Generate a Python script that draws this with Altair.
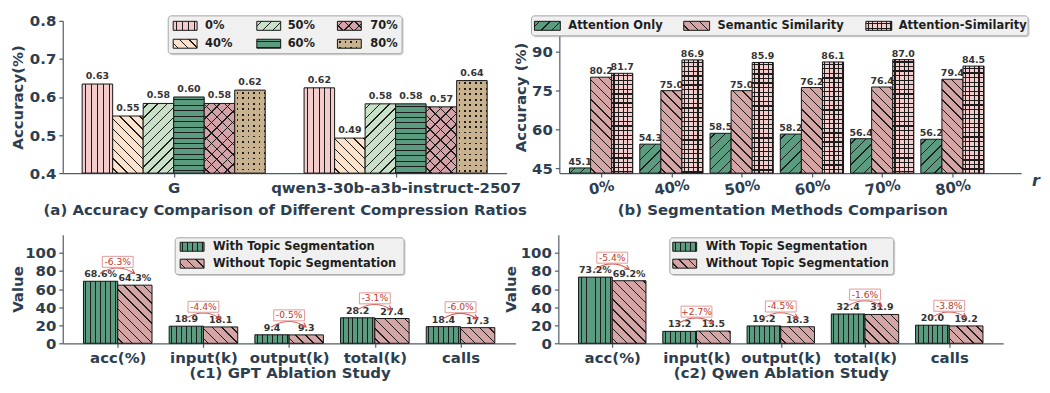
import json
import math
import altair as alt
import pandas as pd

# ---------------- data ----------------
models = ["G", "qwen3-30b-a3b-instruct-2507"]
ratios_a = ["0%", "40%", "50%", "60%", "70%", "80%"]
acc_model1 = [0.634, 0.550, 0.583, 0.600, 0.583, 0.618]
acc_model2 = [0.624, 0.492, 0.582, 0.582, 0.574, 0.643]

ratios_b = ["0%", "40%", "50%", "60%", "70%", "80%"]
methods_b = ["Attention Only", "Semantic Similarity", "Attention-Similarity"]
attention_only = [45.1, 54.3, 58.5, 58.2, 56.4, 56.2]
semantic_similarity = [80.2, 75.0, 75.0, 76.2, 76.4, 79.4]
attention_similarity = [81.7, 86.9, 85.9, 86.1, 87.0, 84.5]

metrics = ["acc(%)", "input(k)", "output(k)", "total(k)", "calls"]
variants = ["With Topic Segmentation", "Without Topic Segmentation"]
gpt_with = [68.6, 18.9, 9.4, 28.2, 18.4]
gpt_without = [64.3, 18.1, 9.3, 27.4, 17.3]
gpt_change = ["-6.3%", "-4.4%", "-0.5%", "-3.1%", "-6.0%"]
qwen_with = [73.2, 13.2, 19.2, 32.4, 20.0]
qwen_without = [69.2, 13.5, 18.3, 31.9, 19.2]
qwen_change = ["-5.4%", "+2.7%", "-4.5%", "-1.6%", "-3.8%"]

# ---------------- style ----------------
FONT = "DejaVu Sans"
INK = "#2c3e50"
AXIS_LINE = "#4f5d6b"
HATCH_INK = "#1c1c1c"
CLEAR = "rgba(0,0,0,0)"
VAL_INK = "#333333"
RED = "#c0392b"

A_STYLES = {
    "0%": dict(color="#f4cccc", hatch=[("v", 6.0, 1.0)]),
    "40%": dict(color="#fde3cc", hatch=[("\\", 7.0, 1.0)]),
    "50%": dict(color="#c8e1c8", hatch=[("/", 7.0, 1.0)]),
    "60%": dict(color="#5b9b80", hatch=[("h", 5.5, 1.0)]),
    "70%": dict(color="#d4a3a8", hatch=[("/", 7.5, 1.0), ("\\", 7.5, 1.0)]),
    "80%": dict(color="#c9b290", hatch=[("dots", 5.5, 1.7)]),
}
B_STYLES = {
    "Attention Only": dict(color="#5b9b80", hatch=[("/", 7.5, 1.0)]),
    "Semantic Similarity": dict(color="#d4a5a5", hatch=[("\\", 7.0, 1.0)]),
    "Attention-Similarity": dict(color="#f4cccc", hatch=[("v", 4.6, 1.2), ("h", 4.6, 1.2)]),
}
C_STYLES = {
    "With Topic Segmentation": dict(color="#5b9b80", hatch=[("v", 5.0, 1.0)]),
    "Without Topic Segmentation": dict(color="#d4a5a5", hatch=[("\\", 7.0, 1.0)]),
}


def _stops(L, sp, lw, col, bg):
    out = [{"offset": 0.0, "color": bg}]
    hw = lw / 2.0 / L
    last = 0.0
    d = sp / 2.0
    while d < L - 0.2:
        t = d / L
        a = round(max(last, t - hw), 4)
        b = round(min(1.0, t + hw), 4)
        out += [{"offset": a, "color": bg}, {"offset": a, "color": col},
                {"offset": b, "color": col}, {"offset": b, "color": bg}]
        last = b
        d += sp
    out.append({"offset": 1.0, "color": bg})
    return out


def hatch(kind, w, h, sp, lw, col=HATCH_INK, bg=CLEAR):
    w = max(w, 1.0)
    h = max(h, 1.0)
    if kind == "v":
        g = dict(x1=0, y1=0, x2=1, y2=0)
        L = w
    elif kind == "h":
        g = dict(x1=0, y1=0, x2=0, y2=1)
        L = h
    else:
        r = h / w
        a = (1 + r) / (1 + r * r)
        L = (w + h) / math.sqrt(2)
        if kind == "/":
            g = dict(x1=0, y1=0, x2=round(a, 5), y2=round(a * r, 5))
        else:
            g = dict(x1=0, y1=1, x2=round(a, 5), y2=round(1 - a * r, 5))
    return {"gradient": "linear", **g, "stops": _stops(L, sp, lw, col, bg)}


def fills(style, w, h):
    out = []
    for kind, sp, lw in style["hatch"]:
        if kind == "dots":
            out.append(hatch("v", w, h, sp, lw))
            out.append(hatch("h", w, h, sp, lw, col=CLEAR, bg=style["color"]))
        else:
            out.append(hatch(kind, w, h, sp, lw))
    return out


ONE = alt.Data(values=[{"k": 1}])


def legend_layers(box, items, sw, sh, fs=11.5):
    x0, y0, x1, y1 = box
    out = [
        alt.Chart(ONE).mark_rect(cornerRadius=3, fill="#9a9a9a", opacity=0.45).encode(
            x=alt.value(x0 + 1.5), x2=alt.value(x1 + 1.5), y=alt.value(y0 + 1.5), y2=alt.value(y1 + 1.5)),
        alt.Chart(ONE).mark_rect(cornerRadius=3, fill="#f0f0f0", stroke="#a6a6a6", strokeWidth=1).encode(
            x=alt.value(x0), x2=alt.value(x1), y=alt.value(y0), y2=alt.value(y1)),
    ]
    for label, st, sx, sy, tx in items:
        pos = dict(x=alt.value(sx), x2=alt.value(sx + sw), y=alt.value(sy - sh / 2), y2=alt.value(sy + sh / 2))
        out.append(alt.Chart(ONE).mark_rect(fill=st["color"]).encode(**pos))
        for g in fills(st, sw, sh):
            out.append(alt.Chart(ONE).mark_rect(fill=g).encode(**pos))
        out.append(alt.Chart(ONE).mark_rect(fillOpacity=0, stroke="#151515", strokeWidth=1).encode(**pos))
        out.append(alt.Chart(ONE).mark_text(align="left", baseline="middle", font=FONT, fontSize=fs,
                                            fontWeight="bold", color="#1e1e1e").encode(
            x=alt.value(tx), y=alt.value(sy), text=alt.value(label)))
    return out


def make_frame(cats, subs, series, wu, fmt):
    """Rows for grouped bars; group g sits at index g, sub-bar j is offset inside it."""
    rows = []
    k = 0
    m = len(subs)
    for j, s in enumerate(subs):
        for g, c in enumerate(cats):
            v = series[j][g]
            xc = g + (j - (m - 1) / 2.0) * wu
            rows.append(dict(id=k, cat=c, sub=s, val=v, lab=fmt(c, v),
                             xc=xc, x0=xc - wu / 2.0, x1=xc + wu / 2.0))
            k += 1
    return pd.DataFrame(rows)


def x_axis(cats, **kw):
    return alt.Axis(values=list(range(len(cats))), labelExpr=json.dumps(cats) + "[datum.value]", **kw)


def bar_panel(df, cats, subs, styles, xdom, ydom, W, H, wu, xaxis, yaxis, lab_dy, lab_fs, extra):
    bw = wu * W / (xdom[1] - xdom[0])
    xs = alt.Scale(domain=xdom, nice=False, zero=False)
    X = alt.X("x0:Q", scale=xs, axis=xaxis)
    XC = alt.X("xc:Q", scale=xs, axis=xaxis)
    Y = alt.Y("val:Q", scale=alt.Scale(domain=ydom, nice=False, zero=False), axis=yaxis)
    enc = dict(x=X, x2=alt.X2("x1:Q"), y=Y, y2=alt.datum(ydom[0]))
    layers = []
    for s in subs:
        st = styles[s]
        layers.append(alt.Chart().mark_bar(fill=st["color"], strokeWidth=0).encode(**enc)
                      .transform_filter(alt.datum.sub == s))
        for r in df[df["sub"] == s].itertuples():
            h = (r.val - ydom[0]) / (ydom[1] - ydom[0]) * H
            for g in fills(st, bw, h):
                layers.append(alt.Chart().mark_bar(fill=g, strokeWidth=0).encode(**enc)
                              .transform_filter(alt.datum.id == int(r.id)))
        layers.append(alt.Chart().mark_bar(fillOpacity=0, stroke="#151515", strokeWidth=1).encode(**enc)
                      .transform_filter(alt.datum.sub == s))
        layers.append(alt.Chart().mark_text(baseline="alphabetic", dy=-lab_dy, font=FONT, fontSize=lab_fs,
                                            fontWeight="bold", color=VAL_INK)
                      .encode(x=XC, y=Y, text="lab:N").transform_filter(alt.datum.sub == s))
    return alt.layer(*layers, *extra(xs, xaxis, yaxis), data=df).properties(width=W, height=H)


# ---------------- panel (a) ----------------
WA, HA, WU_A = 446, 153, 0.1375
df_a = make_frame(models, ratios_a,
                  [[acc_model1[j], acc_model2[j]] for j in range(len(ratios_a))],
                  WU_A, lambda c, v: f"{v:.2f}")
a_items = [("0%", A_STYLES["0%"], 111, 5, 143), ("40%", A_STYLES["40%"], 111, 23, 143),
           ("50%", A_STYLES["50%"], 195, 5, 226), ("60%", A_STYLES["60%"], 195, 23, 226),
           ("70%", A_STYLES["70%"], 276, 5, 309), ("80%", A_STYLES["80%"], 276, 23, 309)]
panel_a = bar_panel(
    df_a, models, ratios_a, A_STYLES, [-0.5, 1.5], [0.4, 0.8], WA, HA, WU_A,
    x_axis(models, title="(a) Accuracy Comparison of Different Compression Ratios", labelAngle=0,
           labelPadding=3, titleBaseline="middle", titleY=37),
    alt.Axis(title="Accuracy(%)", values=[0.4, 0.5, 0.6, 0.7, 0.8], format=".1f", labelPadding=3,
             titleX=-45, titleBaseline="middle"),
    5, 9.5,
    lambda xs, xa, ya: legend_layers((106, -5, 341, 33), a_items, 24, 9),
)

# ---------------- panel (b) ----------------
WB, HB, WU_B = 464, 153, 0.3
df_b = make_frame(ratios_b, methods_b, [attention_only, semantic_similarity, attention_similarity],
                  WU_B, lambda c, v: f"{v:.1f}")
b_items = [("Attention Only", B_STYLES["Attention Only"], -25, 5, 9),
           ("Semantic Similarity", B_STYLES["Semantic Similarity"], 125, 5, 159),
           ("Attention-Similarity", B_STYLES["Attention-Similarity"], 308, 5, 341)]


def b_extra(xs, xa, ya):
    r_lab = alt.Chart(ONE).mark_text(font=FONT, fontSize=16, fontWeight="bold", fontStyle="italic",
                                     color=INK).encode(x=alt.value(WB + 15), y=alt.value(HB + 8),
                                                       text=alt.value("r"))
    return [r_lab] + legend_layers((-28, -5, 471, 15), b_items, 26, 9)


panel_b = bar_panel(
    df_b, ratios_b, methods_b, B_STYLES, [-0.595, 5.977], [43.1, 102.0], WB, HB, WU_B,
    x_axis(ratios_b, title="(b) Segmentation Methods Comparison", labelAngle=350, labelAlign="center",
           labelBaseline="middle", labelPadding=10, titleX=224, titleY=37, titleBaseline="middle"),
    alt.Axis(title="Accuracy (%)", values=[45, 60, 75, 90], labelPadding=3, titleX=-39,
             titleBaseline="middle"),
    3, 9.5, b_extra,
)

# ---------------- panels (c1), (c2) ----------------
WU_C = 0.4
BOX_PATH = "M -1 -0.355 L 1 -0.355 L 1 0.355 L -1 0.355 Z"
ARC_PATH = "M -0.9 0.2 Q 0 -0.35 0.85 0.2 M 0.736 -0.022 L 0.85 0.2 L 0.601 0.188"


def c_panel(with_v, without_v, change, W, xdom, title, title_x, ytitle_x, lbox, sym_x, txt_x):
    df = make_frame(metrics, variants, [with_v, without_v], WU_C,
                    lambda c, v: f"{v:.1f}%" if c.startswith("acc") else f"{v:.1f}")
    tops = [max(a, b) for a, b in zip(with_v, without_v)]
    ann = pd.DataFrame(dict(g=list(range(len(metrics))), chg=change,
                            ytxt=[t + 21.5 for t in tops], yarc=[t + 13 for t in tops]))
    items = [(variants[0], C_STYLES[variants[0]], sym_x, 12, txt_x),
             (variants[1], C_STYLES[variants[1]], sym_x, 29, txt_x)]

    def extra(xs, xa, ya):
        sc = alt.Scale(domain=[0, 120], nice=False, zero=False)
        GX = alt.X("g:Q", scale=xs, axis=xa)
        arc = alt.Chart(ann).mark_point(shape=ARC_PATH, size=1600, filled=False, stroke="#d9534f",
                                        strokeWidth=1.1, opacity=1).encode(
            x=GX, y=alt.Y("yarc:Q", scale=sc, axis=ya))
        box = alt.Chart(ann).mark_point(shape=BOX_PATH, size=961, filled=True, fill="white",
                                        stroke="#e39a96", strokeWidth=1, opacity=1).encode(
            x=GX, y=alt.Y("ytxt:Q", scale=sc, axis=ya))
        txt = alt.Chart(ann).mark_text(baseline="middle", font=FONT, fontSize=9.2, color=RED).encode(
            x=GX, y=alt.Y("ytxt:Q", scale=sc, axis=ya), text="chg:N")
        return [arc, box, txt] + legend_layers(lbox, items, 24, 9)

    return bar_panel(
        df, metrics, variants, C_STYLES, xdom, [0, 120], W, 109, WU_C,
        x_axis(metrics, title=title, labelAngle=0, labelPadding=3, titleX=title_x, titleY=29,
               titleBaseline="middle"),
        alt.Axis(title="Value", values=[0, 20, 40, 60, 80, 100], labelPadding=3, titleX=ytitle_x,
                 titleBaseline="middle"),
        4, 9.5, extra,
    )


panel_c1 = c_panel(gpt_with, gpt_without, gpt_change, 455, [-0.642, 4.642],
                   "(c1) GPT Ablation Study", 228, -45, (113, 3, 343, 40), 118, 151)
panel_c2 = c_panel(qwen_with, qwen_without, qwen_change, 447, [-0.64, 4.64],
                   "(c2) Qwen Ablation Study", 223.5, -48, (112, 3, 337, 40), 115, 148)

top = alt.hconcat(panel_a, panel_b, spacing=53, bounds="flush")
bottom = alt.hconcat(panel_c1, panel_c2, spacing=43, bounds="flush")
chart = (
    alt.vconcat(top, bottom, spacing=17)
    .properties(padding={"left": 2, "top": 5, "right": 2, "bottom": 2}, background="white")
    .configure_view(strokeWidth=0)
    .configure_axis(domainColor=AXIS_LINE, domainWidth=1.2, tickColor=AXIS_LINE, tickSize=4,
                    tickWidth=1.2, labelFont=FONT, labelFontSize=15, labelFontWeight="bold",
                    labelColor=INK, titleFont=FONT, titleFontSize=15, titleFontWeight="bold",
                    titleColor=INK, grid=False, labelLimit=400)
)

chart.save("out.html", embed_options={"renderer": "svg", "actions": False})
